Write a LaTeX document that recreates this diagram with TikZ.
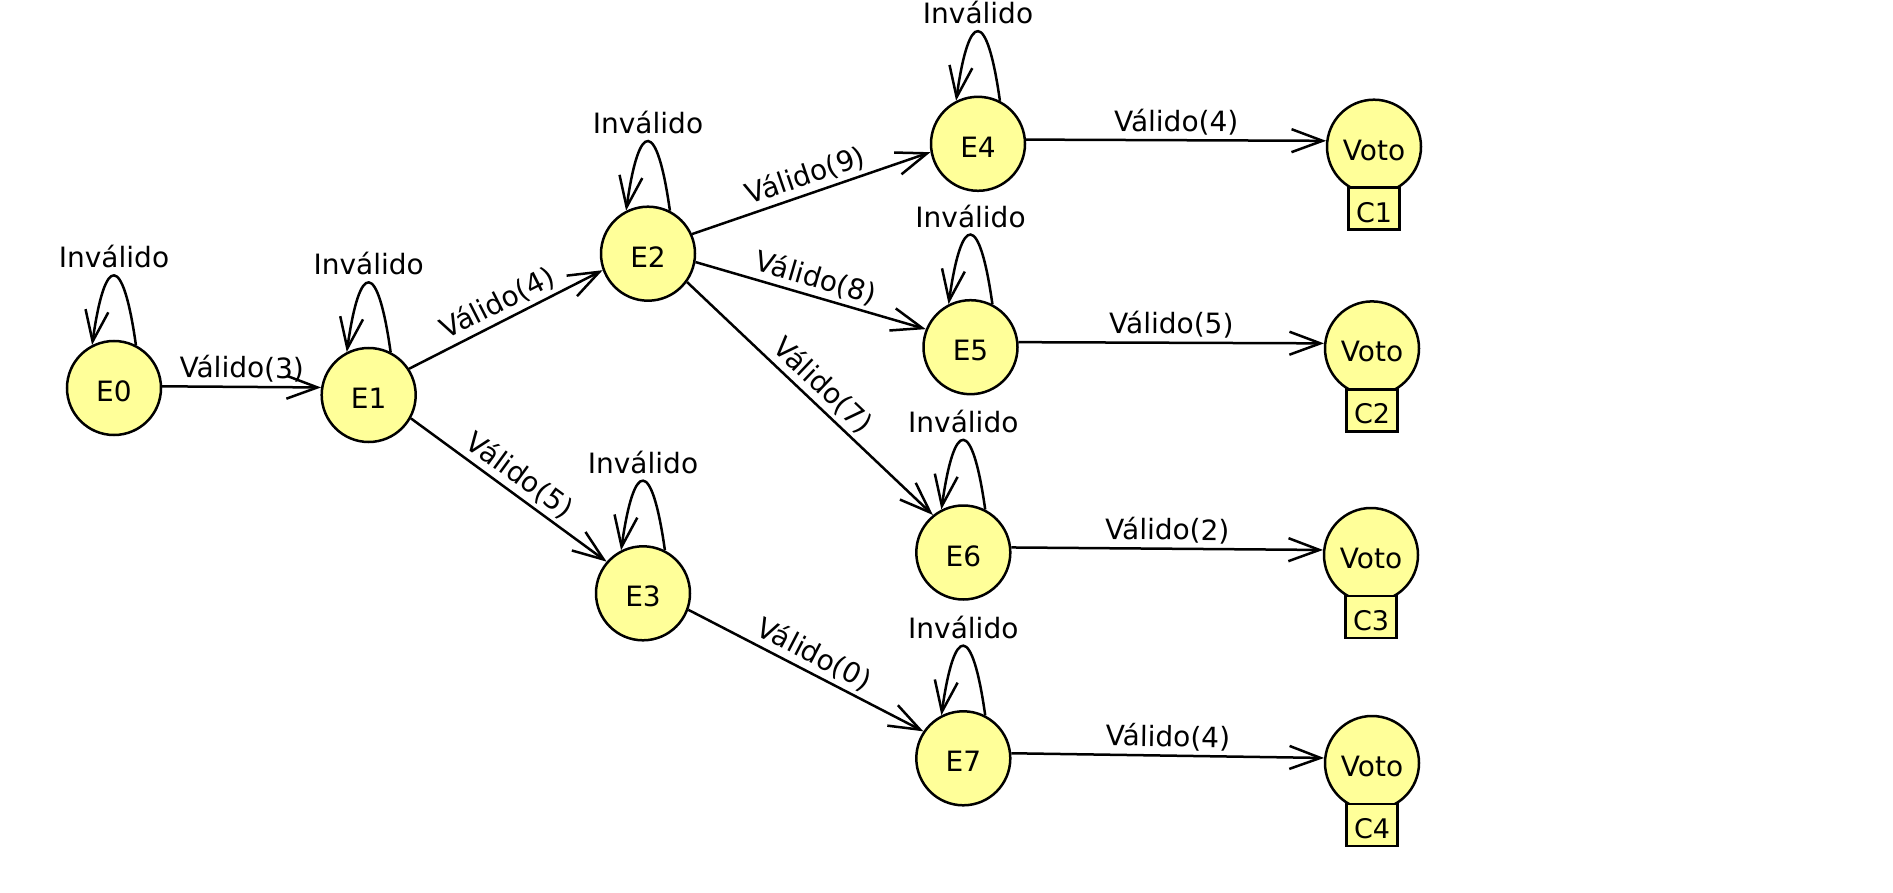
\documentclass[tikz,border=0pt]{standalone}
\usepackage{fontspec}
\setmainfont{DejaVu Sans}
\usetikzlibrary{arrows.meta}
\definecolor{stfill}{RGB}{255,255,153}
\begin{document}
\begin{tikzpicture}[x=1pt,y=1pt,
  every node/.style={font=\fontsize{28}{34}\selectfont},
  state/.style={circle, draw, line width=2.5pt, fill=stfill, minimum size=94pt, inner sep=0pt, text height=27pt, text depth=0pt},
  cbox/.style={rectangle, draw, line width=2.5pt, fill=stfill, minimum width=51pt, minimum height=42pt, inner sep=0pt, font=\fontsize{27}{32}\selectfont, text height=27pt, text depth=0pt},
  edge/.style={line width=2.5pt, -{Straight Barb[length=31pt,width=23pt]}},
  elabel/.style={midway, sloped, above, inner sep=4pt},
  llabel/.style={anchor=base, inner sep=0pt}
]
\useasboundingbox (0,0) rectangle (1893,-893);

% states
\node[state] (E0) at (114,-388) {E0};
\node[state] (E1) at (368.7,-395) {E1};
\node[state] (E2) at (648,-253.7) {E2};
\node[state] (E3) at (643,-593.3) {E3};
\node[state] (E4) at (978,-143.8) {E4};
\node[state] (E5) at (970.5,-347.2) {E5};
\node[state] (E6) at (963.3,-552.5) {E6};
\node[state] (E7) at (963.3,-758.3) {E7};

% final votes
\node[state] (V1) at (1374,-146.7) {Voto};
\node[state] (V2) at (1372,-348.4) {Voto};
\node[state] (V3) at (1371,-555) {Voto};
\node[state] (V4) at (1372,-763) {Voto};
\node[cbox] (C1) at ([yshift=-62]V1.center) {C1};
\node[cbox] (C2) at ([yshift=-62]V2.center) {C2};
\node[cbox] (C3) at ([yshift=-62]V3.center) {C3};
\node[cbox] (C4) at ([yshift=-62]V4.center) {C4};

% self loops
\foreach \n in {E0,E1,E2,E3,E4,E5,E6,E7}{
  \draw[edge] (\n.63) .. controls +(98:93) and +(82:93) .. (\n.117);
  \node[llabel] (L\n) at ([yshift=120]\n.center) {Inválido};
}

% transitions
\draw[edge] (E0.2) -- node[elabel]{Válido(3)} (E1.171);
\draw[edge] (E1.33) -- node[elabel]{Válido(4)} (E2.200);
\draw[edge] (E1.-29) -- node[elabel]{Válido(5)} (E3.139);
\draw[edge] (E2.24) -- node[elabel]{Válido(9)} (E4.190);
\draw[edge] (E2.-10) -- node[elabel]{Válido(8)} (E5.158);
\draw[edge] (E2.-36) -- node[elabel]{Válido(7)} (E6.129);
\draw[edge] (E3.-20) -- node[elabel]{Válido(0)} (E7.146);
\draw[edge] (E4.5) -- node[elabel]{Válido(4)} (V1.173);
\draw[edge] (E5.6) -- node[elabel]{Válido(5)} (V2.174);
\draw[edge] (E6.6) -- node[elabel]{Válido(2)} (V3.174);
\draw[edge] (E7.6) -- node[elabel]{Válido(4)} (V4.174);
\end{tikzpicture}
\end{document}
